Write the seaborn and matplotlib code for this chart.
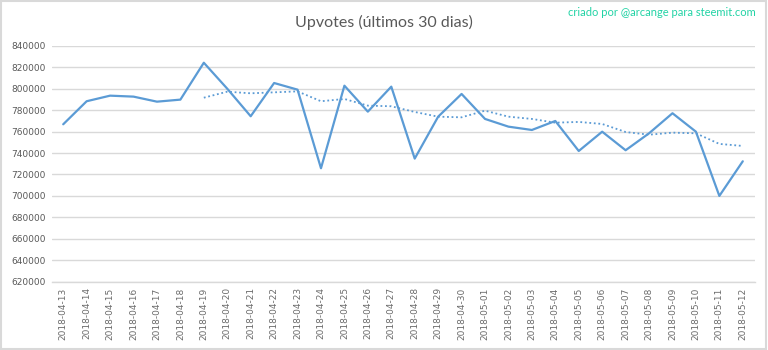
import matplotlib
matplotlib.use("Agg")
import matplotlib.pyplot as plt
import seaborn as sns
import pandas as pd
import numpy as np
from matplotlib.patches import Rectangle

dates = ["2018-04-13", "2018-04-14", "2018-04-15", "2018-04-16", "2018-04-17",
         "2018-04-18", "2018-04-19", "2018-04-20", "2018-04-21", "2018-04-22",
         "2018-04-23", "2018-04-24", "2018-04-25", "2018-04-26", "2018-04-27",
         "2018-04-28", "2018-04-29", "2018-04-30", "2018-05-01", "2018-05-02",
         "2018-05-03", "2018-05-04", "2018-05-05", "2018-05-06", "2018-05-07",
         "2018-05-08", "2018-05-09", "2018-05-10", "2018-05-11", "2018-05-12"]
upvotes = [766800, 788300, 793500, 792600, 787900, 789800, 824200, 800000,
           774300, 805300, 799100, 725800, 802800, 778600, 801900, 734800,
           773900, 795100, 771800, 764600, 761500, 769900, 741900, 759900,
           742600, 758400, 777100, 759900, 700000, 732300]
moving_avg = [np.nan] * 6 + [791600, 797200, 795700, 796600, 797500, 788300,
                             790400, 784200, 783600, 778300, 773900, 773300,
                             779500, 773900, 771800, 768300, 769000, 767100,
                             759600, 757100, 759000, 758400, 748500, 746600]
yticks = list(range(620000, 840001, 20000))

title = "Upvotes (últimos 30 dias)"
credit = "criado por @arcange para steemit.com"

sns.set_theme(style="white")
plt.rcParams['font.family'] = ['Lato', 'DejaVu Sans']

df = pd.DataFrame({"date": dates, "upvotes": upvotes, "ma": moving_avg})

fig = plt.figure(figsize=(7.68, 3.5), dpi=100)
ax = fig.add_axes([51.5 / 768, (350 - 281.7) / 350, 703 / 768, (281.7 - 45.8) / 350])

blue = "#5B9BD5"
sns.lineplot(data=df, x="date", y="upvotes", ax=ax, color=blue, linewidth=1.6, sort=False)
sns.lineplot(data=df.dropna(), x="date", y="ma", ax=ax, color=blue, linewidth=1.3,
             linestyle=(0, (1, 1.5)), sort=False)

ax.set_xlim(-0.5, len(dates) - 0.5)
ax.set_ylim(620000, 840000)
ax.set_yticks(yticks)
ax.set_yticklabels([str(v) for v in yticks])
ax.set_xticks(range(len(dates)))
ax.set_xticklabels(dates, rotation=90)
ax.set_xlabel("")
ax.set_ylabel("")
ax.grid(axis="y", color="#d9d9d9", linewidth=1)
ax.set_axisbelow(True)
for s in ["top", "right", "left"]:
    ax.spines[s].set_visible(False)
ax.spines["bottom"].set_color("#d9d9d9")
ax.spines["bottom"].set_linewidth(1)
ax.tick_params(axis="both", length=0, labelsize=7, colors="#595959", pad=4)
for lab in ax.get_xticklabels() + ax.get_yticklabels():
    lab.set_family(['DejaVu Sans'])
    lab.set_fontsize(6.5)
for lab in ax.get_xticklabels():
    lab.set_color("#6b6b6b")

fig.text(384 / 768, 1 - 22 / 350, title, ha="center", va="center", fontsize=11.5, color="#595959")
fig.text(756 / 768, 1 - 13 / 350, credit, ha="right", va="center", fontsize=8, color="#22d3a5")

fig.patches.append(Rectangle((0.001, 0.002), 0.997, 0.995, transform=fig.transFigure,
                             fill=False, edgecolor="#d9d9d9", linewidth=1.5))

fig.savefig("out.png", dpi=100)
